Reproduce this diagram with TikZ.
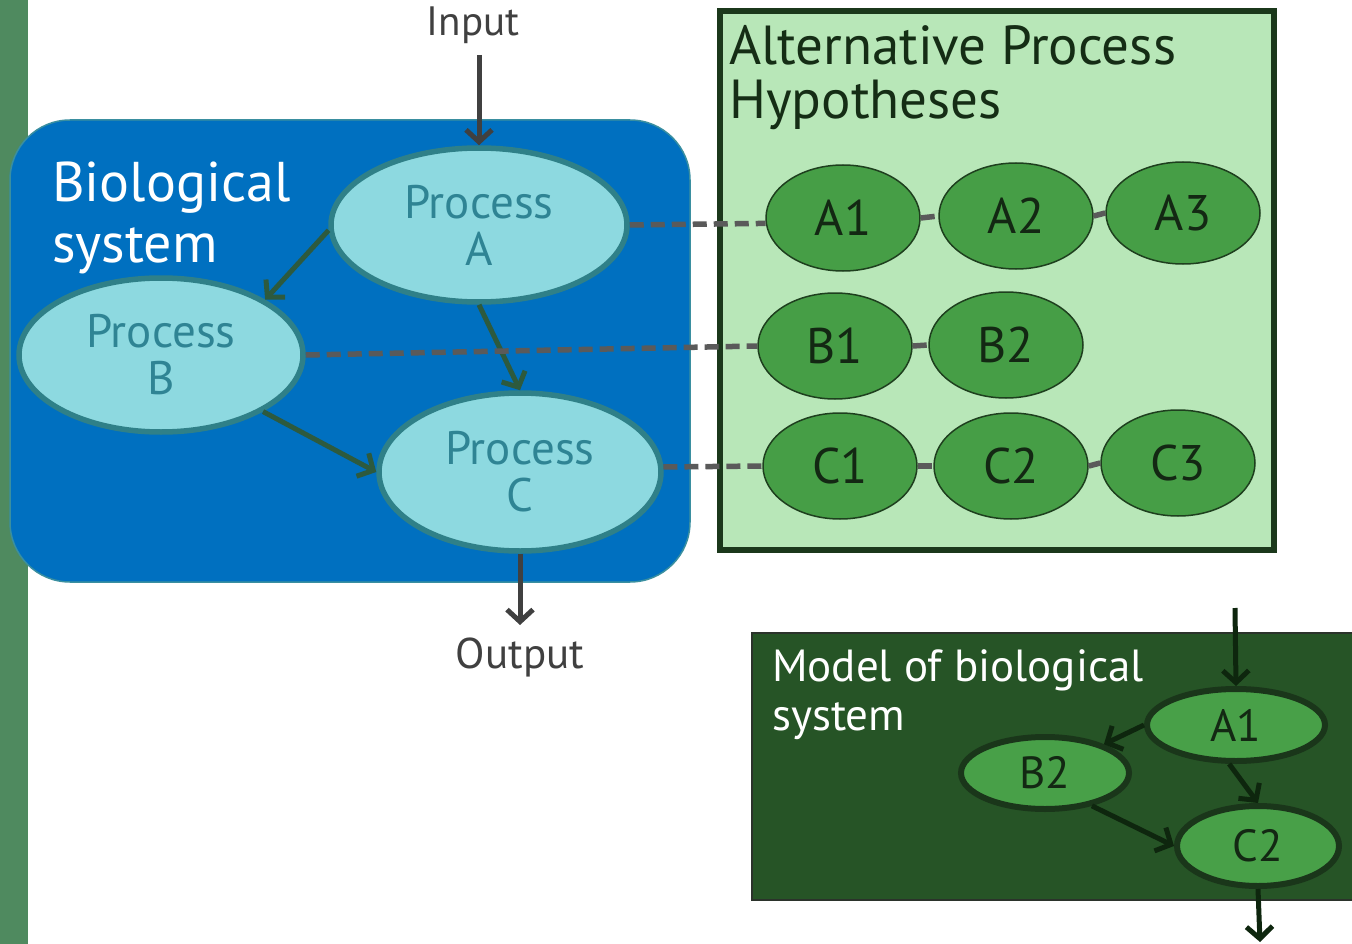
\documentclass[tikz,border=0pt]{standalone}
\usepackage{fontspec}
\setmainfont{PT Sans}
\usetikzlibrary{shapes.geometric,arrows.meta}

\definecolor{sidegreen}{HTML}{4F8A5F}
\definecolor{bluebox}{HTML}{0070C0}
\definecolor{blueedge}{HTML}{3A8FA0}
\definecolor{procfill}{HTML}{8DD9E0}
\definecolor{procedge}{HTML}{2F8088}
\definecolor{proctext}{HTML}{2F8494}
\definecolor{innerarrow}{HTML}{2D5A3E}
\definecolor{ioarrow}{HTML}{404040}
\definecolor{dashgray}{HTML}{5A5A5A}
\definecolor{lightfill}{HTML}{B8E7B8}
\definecolor{lightedge}{HTML}{1B381B}
\definecolor{titletext}{HTML}{152D15}
\definecolor{hypfill}{HTML}{469E46}
\definecolor{hypedge}{HTML}{1E3F1E}
\definecolor{hyptext}{HTML}{132813}
\definecolor{modelfill}{HTML}{265426}
\definecolor{modeledge}{HTML}{2B332B}
\definecolor{mdlfill}{HTML}{48A048}
\definecolor{mdledge}{HTML}{1A361A}
\definecolor{mdlarrow}{HTML}{0E260E}

\tikzset{
  proc/.style={ellipse, draw=procedge, line width=5.5pt, fill=procfill,
    text=proctext, inner sep=0pt, align=center,
    minimum width=296pt, minimum height=154pt,
    font=\fontsize{47}{47}\selectfont},
  hyp/.style={ellipse, draw=hypedge, line width=1.5pt, fill=hypfill,
    text=hyptext, inner sep=0pt, minimum width=154pt, minimum height=106pt,
    font=\fontsize{50}{50}\selectfont},
  mdl/.style={ellipse, draw=mdledge, line width=6pt, fill=mdlfill,
    text=hyptext, inner sep=0pt, font=\fontsize{45}{46}\selectfont},
  link/.style={draw=dashgray, line width=5.5pt, dash pattern=on 14pt off 7pt},
  ioarr/.style={draw=ioarrow, line width=5pt,
    -{Straight Barb[length=12pt,width=26pt]}},
  flowarr/.style={draw=innerarrow, line width=5pt,
    -{Straight Barb[length=12pt,width=26pt]}},
  mdlarr/.style={draw=mdlarrow, line width=5pt,
    -{Straight Barb[length=12pt,width=26pt]}},
}

\begin{document}
\begin{tikzpicture}[x=1pt,y=-1pt]
\useasboundingbox (0,0) rectangle (1352,944);
\fill[white] (0,0) rectangle (1352,944);

% green strip on the left
\fill[sidegreen] (0,0) rectangle (28,944);

% biological system panel
\draw[fill=bluebox, draw=blueedge, line width=1.5pt, rounded corners=60pt]
  (10,120) rectangle (690,582);
\node[anchor=north west, inner sep=0pt, text=white, align=left,
  font=\fontsize{56}{61}\selectfont] (biotitle) at (52,162) {Biological\\system};

\node[proc] (pA) at (479,225) {Process\\A};
\node[proc, minimum width=284pt] (pB) at (161,355) {Process\\B};
\node[proc, minimum width=282pt, minimum height=158pt] (pC) at (520,472) {Process\\C};

\node[text=ioarrow, font=\fontsize{41}{44}\selectfont] (input) at (473,25) {Input};
\node[text=ioarrow, font=\fontsize{43}{44}\selectfont] (output) at (520,657) {Output};
\coordinate (inTop) at (479,55);
\coordinate (outEnd) at (520,625);

\draw[ioarr] (inTop) -- (pA.north);
\draw[ioarr] (pC.south) -- (outEnd);
\draw[flowarr] (pA.182) -- (pB.28);
\draw[flowarr] (pA.south) -- (pC.north);
\draw[flowarr] (pB.-29) -- (pC.west);

% alternative hypotheses panel
\draw[fill=lightfill, draw=lightedge, line width=6pt] (720,11) rectangle (1274,550);
\node[anchor=north west, inner sep=0pt, text=titletext, align=left,
  font=\fontsize{55}{54}\selectfont] (hyptitle) at (729,25) {Alternative Process\\Hypotheses};

\node[hyp] (hA1) at (843,218) {A1};
\node[hyp] (hA2) at (1016,216) {A2};
\node[hyp, minimum height=102pt] (hA3) at (1183,213) {A3};
\node[hyp] (hB1) at (835,346) {B1};
\node[hyp] (hB2) at (1006,345) {B2};
\node[hyp] (hC1) at (840,466) {C1};
\node[hyp] (hC2) at (1011,466) {C2};
\node[hyp] (hC3) at (1178,463) {C3};

% dashed links from processes to their hypotheses
\draw[link] (pA.east) -- (hA1.184);
\draw[link] (pB.east) -- (hB1.west);
\draw[link] (pC.2) -- (hC1.west);
\draw[link] (hA1.east) -- (hA2.west);
\draw[link] (hA2.east) -- (hA3.west);
\draw[link] (hB1.east) -- (hB2.west);
\draw[link] (hC1.east) -- (hC2.west);
\draw[link] (hC2.east) -- (hC3.west);

% model of the biological system
\fill[modelfill] (752,633) rectangle (1352,900);
\draw[modeledge, line width=1.5pt] (1352,633) -- (752,633) -- (752,900) -- (1352,900);
\node[anchor=north west, inner sep=0pt, text=white, align=left,
  font=\fontsize{45}{49}\selectfont] (mdltitle) at (772,649) {Model of biological\\system};

\node[mdl, minimum width=178pt, minimum height=72pt] (mA1) at (1236,725) {A1};
\node[mdl, minimum width=168pt, minimum height=72pt] (mB2) at (1045,773) {B2};
\node[mdl, minimum width=162pt, minimum height=80pt] (mC2) at (1258,846) {C2};
\coordinate (mIn) at (1235,608);
\coordinate (mOut) at (1260,942);

\draw[mdlarr] (mIn) -- (mA1.north);
\draw[mdlarr] (mA1.west) -- (mB2.26);
\draw[mdlarr] (mA1.-100) -- (mC2.north);
\draw[mdlarr] (mB2.-35) -- (mC2.west);
\draw[mdlarr] (mC2.south) -- (mOut);
\end{tikzpicture}
\end{document}
